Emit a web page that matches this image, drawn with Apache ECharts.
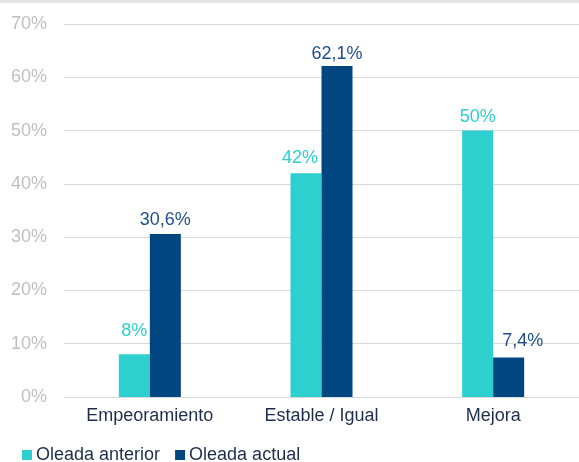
<!DOCTYPE html>
<html>
<head>
<meta charset="utf-8">
<script src="https://cdn.jsdelivr.net/npm/echarts@6/dist/echarts.min.js"></script>
<style>
    html, body { margin: 0; padding: 0; background: #fff; }
    #chart { width: 579px; height: 462px; }
</style>
</head>
<body>
<div id="chart"></div>
<script>
// datos del gráfico
var categorias = ['Empeoramiento', 'Estable / Igual', 'Mejora'];
var oleada_anterior = [8, 42, 50];
var oleada_actual = [30.6, 62.1, 7.4];
var etiquetas_anterior = ['8%', '42%', '50%'];
var etiquetas_actual = ['30,6%', '62,1%', '7,4%'];

// desplazamientos de las etiquetas (como en el original)
var offsets_anterior = [[0, -9], [-6, -1], [0, 0]];
var offsets_actual = [[0, 0], [0, 2], [14, -3]];

var colorAnterior = '#2ECFCF';
var colorActual = '#004681';

function buildData(valores, offsets) {
    return valores.map(function (v, i) {
        return { value: v, label: { offset: offsets[i] } };
    });
}

var myChart = echarts.init(document.getElementById('chart'));

var option = {
    animation: false,
    textStyle: { fontFamily: 'Liberation Sans, Arial, sans-serif' },
    graphic: [
        {
            type: 'rect',
            shape: { x: 0, y: 0, width: 579, height: 3 },
            style: { fill: '#e6e6e6' }
        }
    ],
    grid: {
        left: 64,
        right: -2,
        top: 24,
        bottom: 65
    },
    legend: {
        left: 17,
        top: 441,
        itemWidth: 10,
        itemHeight: 10,
        itemGap: 15,
        icon: 'rect',
        textStyle: { color: '#1f2d4d', fontSize: 18, padding: [0, 0, 0, -1] },
        data: ['Oleada anterior', 'Oleada actual']
    },
    xAxis: {
        type: 'category',
        data: categorias,
        axisLine: { show: false },
        axisTick: { show: false },
        axisLabel: { color: '#1f2d4d', fontSize: 18, margin: 10 }
    },
    yAxis: {
        type: 'value',
        min: 0,
        max: 70,
        interval: 10,
        axisLabel: {
            color: '#bfbfbf',
            fontSize: 18,
            margin: 17,
            formatter: function (value) {
                return value + '%';
            }
        },
        splitLine: { lineStyle: { color: '#d9d9d9', width: 1 } }
    },
    series: [
        {
            name: 'Oleada anterior',
            type: 'bar',
            data: buildData(oleada_anterior, offsets_anterior),
            barWidth: 31,
            barGap: '0%',
            itemStyle: { color: colorAnterior },
            label: {
                show: true,
                position: 'top',
                distance: 5,
                color: colorAnterior,
                fontSize: 18,
                formatter: function (p) {
                    return etiquetas_anterior[p.dataIndex];
                }
            }
        },
        {
            name: 'Oleada actual',
            type: 'bar',
            data: buildData(oleada_actual, offsets_actual),
            barWidth: 31,
            itemStyle: { color: colorActual },
            label: {
                show: true,
                position: 'top',
                distance: 5,
                color: '#1f4e8c',
                fontSize: 18,
                formatter: function (p) {
                    return etiquetas_actual[p.dataIndex];
                }
            }
        }
    ]
};

myChart.setOption(option);
</script>
</body>
</html>
